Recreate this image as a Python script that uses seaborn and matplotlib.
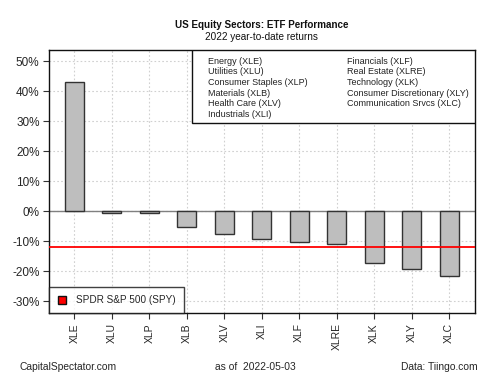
import numpy as np
import pandas as pd
import matplotlib
matplotlib.use("Agg")
import matplotlib.pyplot as plt
import seaborn as sns
from matplotlib.lines import Line2D

tickers = ["XLE", "XLU", "XLP", "XLB", "XLV", "XLI", "XLF", "XLRE", "XLK", "XLY", "XLC"]
returns = [42.9, -0.6, -0.5, -5.2, -7.7, -9.1, -10.4, -10.8, -17.2, -19.4, -21.7]
spy_return = -12.0

sector_names_left = ["Energy (XLE)", "Utilities (XLU)", "Consumer Staples (XLP)",
                     "Materials (XLB)", "Health Care (XLV)", "Industrials (XLI)"]
sector_names_right = ["Financials (XLF)", "Real Estate (XLRE)", "Technology (XLK)",
                      "Consumer Discretionary (XLY)", "Communication Srvcs (XLC)"]

df = pd.DataFrame({"ticker": tickers, "ret": returns})

sns.set_style("white")
plt.rcParams["font.family"] = ["Liberation Sans", "DejaVu Sans"]

fig = plt.figure(figsize=(5, 3.75), dpi=100)
ax = fig.add_axes([0.0986, 0.1645, 0.8508, 0.703])

ax.set_axisbelow(True)
yt = np.arange(-30, 51, 10)
for v in yt:
    ax.axhline(v, color="#d0d0d0", lw=0.8, ls=(0, (1.5, 2)), zorder=0)
for i in range(len(tickers)):
    ax.axvline(i, color="#d0d0d0", lw=0.8, ls=(0, (1.5, 2)), zorder=0)
ax.axhline(0, color="#808080", lw=1.0, zorder=1)

sns.barplot(data=df, x="ticker", y="ret", color="#bebebe", width=0.5,
            edgecolor="#333333", linewidth=1.0, saturation=1, ax=ax, zorder=2)
ax.axhline(spy_return, color="#ff0000", lw=1.3, zorder=3)

ax.set_xlim(-0.667, 10.68)
ax.set_ylim(-34, 53.8)
ax.set_yticks(yt)
ax.set_yticklabels([f"{v}%" for v in yt], fontsize=8.5)
ax.set_xticks(range(len(tickers)))
ax.set_xticklabels(tickers, rotation=90, fontsize=7.5)
ax.tick_params(axis="both", length=4, width=0.8, color="#333333", direction="out",
               left=True, bottom=True, pad=3)
ax.set_xlabel("")
ax.set_ylabel("")
for s in ax.spines.values():
    s.set_visible(True)
    s.set_color("#111111")
    s.set_linewidth(1.0)

# sector key box (top right)
key = plt.Rectangle((0.335, 0.722), 0.665, 0.278, transform=ax.transAxes,
                    facecolor="white", edgecolor="#111111", lw=1.0, zorder=4)
ax.add_patch(key)
for j, name in enumerate(sector_names_left):
    ax.text(0.372, 0.957 - j * 0.0406, name, transform=ax.transAxes,
            fontsize=6.5, va="center", ha="left", color="#222222", zorder=5)
for j, name in enumerate(sector_names_right):
    ax.text(0.699, 0.957 - j * 0.0406, name, transform=ax.transAxes,
            fontsize=6.5, va="center", ha="left", color="#222222", zorder=5)

# SPY legend (bottom left)
handle = Line2D([], [], marker="s", color="none", markerfacecolor="#ff0000",
                markeredgecolor="#111111", markersize=5.5)
leg = ax.legend([handle], ["SPDR S&P 500 (SPY)"], loc="lower left",
                bbox_to_anchor=(0, 0), borderaxespad=0, fancybox=False,
                frameon=True, fontsize=7.2, handlelength=1.0, handletextpad=0.9,
                borderpad=0.8)
leg.get_frame().set_edgecolor("#111111")
leg.get_frame().set_linewidth(1.0)
leg.set_zorder(5)

fig.text(0.523, 0.933, "US Equity Sectors: ETF Performance", ha="center",
         va="center", fontsize=7.1, fontweight="bold", color="#111111")
fig.text(0.523, 0.901, "2022 year-to-date returns", ha="center", va="center",
         fontsize=7.2, color="#111111")

fig.text(0.04, 0.022, "CapitalSpectator.com", ha="left", va="center", fontsize=7.4)
fig.text(0.43, 0.022, "as of  2022-05-03", ha="left", va="center", fontsize=7.4)
fig.text(0.956, 0.022, "Data: Tiingo.com", ha="right", va="center", fontsize=7.4)

fig.savefig("out.png", dpi=100)
